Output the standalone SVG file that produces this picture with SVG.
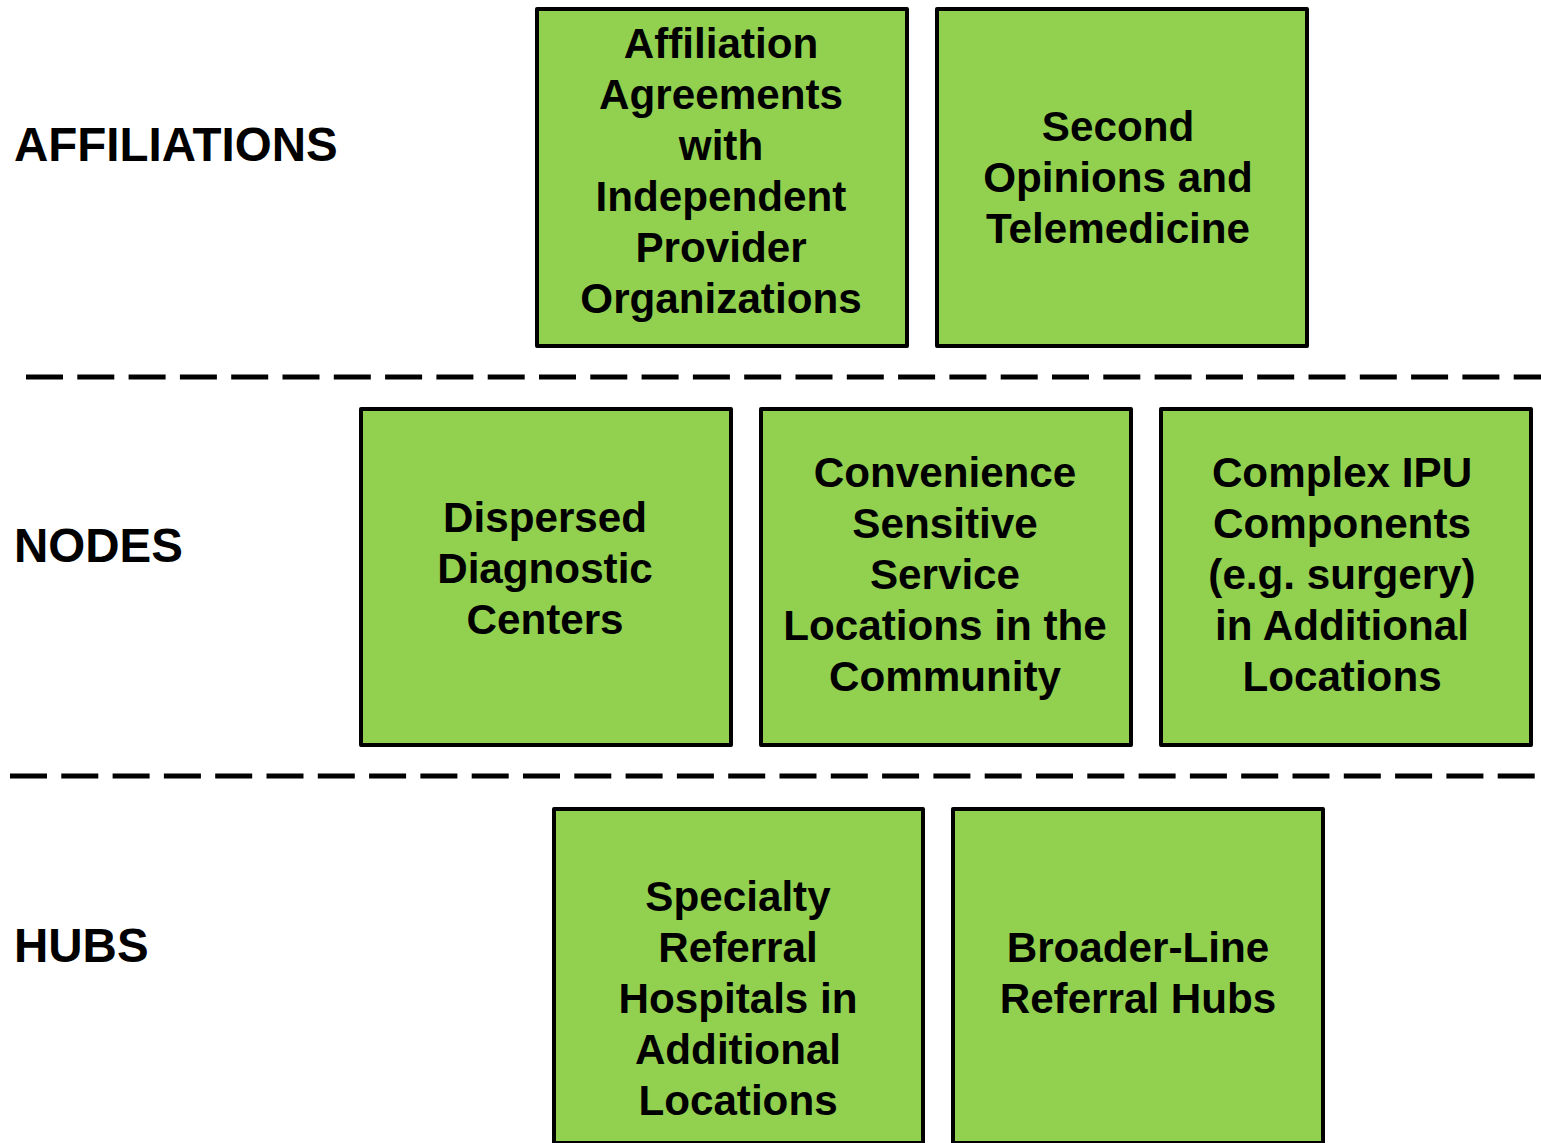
<svg xmlns="http://www.w3.org/2000/svg" width="1541" height="1143" viewBox="0 0 1541 1143">
<style>
.box{fill:#92D050;stroke:#000;stroke-width:4;stroke-linejoin:round}
.t{font-family:"Liberation Sans",Arial,sans-serif;font-weight:bold;font-size:42.2px;fill:#000;text-anchor:middle}
.lbl{font-family:"Liberation Sans",Arial,sans-serif;font-weight:bold;font-size:47.5px;fill:#000}
.dash{stroke:#000;stroke-width:5;stroke-dasharray:37 14.3;fill:none}
</style>
<rect width="1541" height="1143" fill="#fff"/>
<g id="labels">
<text class="lbl" x="14" y="161">AFFILIATIONS</text>
<text class="lbl" x="14" y="562">NODES</text>
<text class="lbl" x="14" y="962">HUBS</text>
</g>
<g id="connectors">
<line class="dash" x1="26" y1="377" x2="1541" y2="377"/>
<line class="dash" x1="10" y1="776" x2="1541" y2="776"/>
</g>
<g id="affiliation-agreements">
<rect class="box" x="537" y="9" width="370" height="337"/>
<text class="t" x="721"><tspan x="721" y="58">Affiliation</tspan><tspan x="721" y="109">Agreements</tspan><tspan x="721" y="160">with</tspan><tspan x="721" y="211">Independent</tspan><tspan x="721" y="262">Provider</tspan><tspan x="721" y="313">Organizations</tspan></text>
</g>
<g id="second-opinions">
<rect class="box" x="937" y="9" width="370" height="337"/>
<text class="t" x="1118"><tspan x="1118" y="141">Second</tspan><tspan x="1118" y="192">Opinions and</tspan><tspan x="1118" y="243">Telemedicine</tspan></text>
</g>
<g id="dispersed-diagnostic">
<rect class="box" x="361" y="409" width="370" height="336"/>
<text class="t" x="545"><tspan x="545" y="532">Dispersed</tspan><tspan x="545" y="583">Diagnostic</tspan><tspan x="545" y="634">Centers</tspan></text>
</g>
<g id="convenience-sensitive">
<rect class="box" x="761" y="409" width="370" height="336"/>
<text class="t" x="945"><tspan x="945" y="487">Convenience</tspan><tspan x="945" y="538">Sensitive</tspan><tspan x="945" y="589">Service</tspan><tspan x="945" y="640">Locations in the</tspan><tspan x="945" y="691">Community</tspan></text>
</g>
<g id="complex-ipu">
<rect class="box" x="1161" y="409" width="370" height="336"/>
<text class="t" x="1342"><tspan x="1342" y="487">Complex IPU</tspan><tspan x="1342" y="538">Components</tspan><tspan x="1342" y="589">(e.g. surgery)</tspan><tspan x="1342" y="640">in Additional</tspan><tspan x="1342" y="691">Locations</tspan></text>
</g>
<g id="specialty-referral">
<rect class="box" x="554" y="809" width="369" height="334"/>
<text class="t" x="738"><tspan x="738" y="911">Specialty</tspan><tspan x="738" y="962">Referral</tspan><tspan x="738" y="1013">Hospitals in</tspan><tspan x="738" y="1064">Additional</tspan><tspan x="738" y="1115">Locations</tspan></text>
</g>
<g id="broader-line">
<rect class="box" x="953" y="809" width="370" height="334"/>
<text class="t" x="1138"><tspan x="1138" y="962">Broader-Line</tspan><tspan x="1138" y="1013">Referral Hubs</tspan></text>
</g>
</svg>
